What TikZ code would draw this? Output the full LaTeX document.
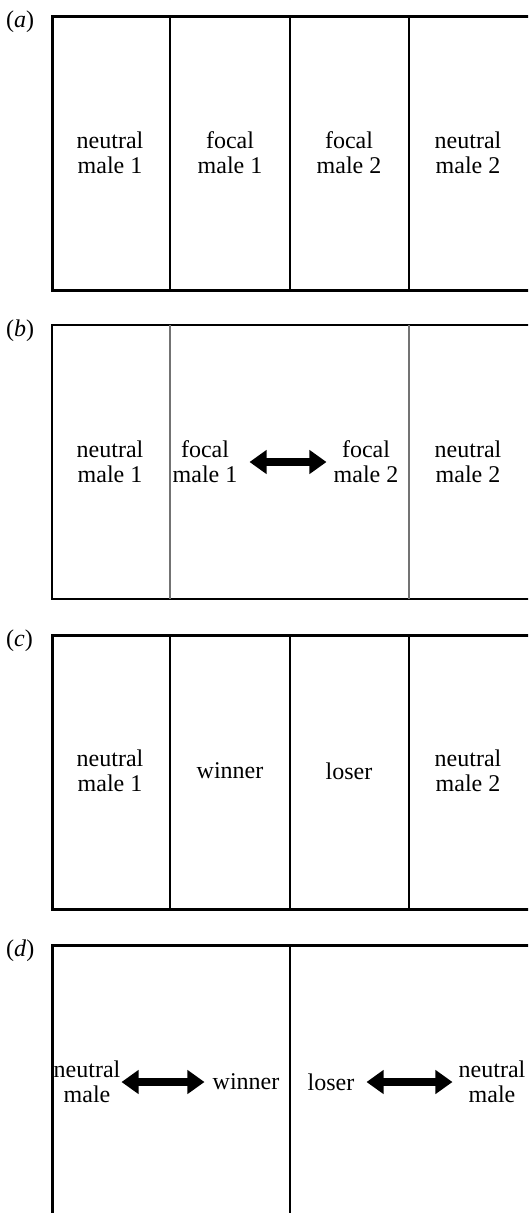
\documentclass[tikz,border=0pt]{standalone}
\usepackage{fontspec}
\setmainfont{Liberation Serif}
\usetikzlibrary{arrows.meta}

\tikzset{
  frame/.style={line width=3pt},
  wall/.style={line width=1.8pt},
  softwall/.style={line width=1.3pt, black!55},
  cage/.style={align=center, inner sep=0pt, font=\fontsize{24}{25}\selectfont},
  tag/.style={anchor=base west, inner sep=0pt, font=\fontsize{24}{26}\selectfont},
  fight/.style={line width=8pt, {Triangle[length=17pt,width=23pt]}-{Triangle[length=17pt,width=23pt]}},
}

\begin{document}
\begin{tikzpicture}[x=1pt,y=-1pt]
    \clip (0,0) rectangle (528,1213);

    % panels (a) and (c): four compartments
    \foreach \t/\p in {16/a, 635/c} {
        \draw[frame] (52,\t) rectangle (540,\t+274);
        \foreach \x in {170,290,409}
            \draw[wall] (\x,\t) -- (\x,\t+274);
        \node[tag] (tag-\p) at (6,\t+11) {(\textit{\p})};
    }

    % panel (b): barriers removed between the focal males
    \draw[frame, line width=2.4pt] (52,325) rectangle (540,599);
    \foreach \x in {170,409}
        \draw[softwall] (\x,325) -- (\x,599);
    \node[tag] (tag-b) at (6,336) {(\textit{b})};

    % panel (d): two compartments
    \draw[frame] (52,945) rectangle (540,1219);
    \draw[wall, line width=2.2pt] (290,945) -- (290,1219);
    \node[tag] (tag-d) at (6,956) {(\textit{d})};

    % (a)
    \node[cage] (a-n1) at (110,153) {neutral\\male 1};
    \node[cage] (a-f1) at (230,153) {focal\\male 1};
    \node[cage] (a-f2) at (349,153) {focal\\male 2};
    \node[cage] (a-n2) at (468,153) {neutral\\male 2};

    % (b)
    \node[cage] (b-n1) at (110,462) {neutral\\male 1};
    \node[cage] (b-f1) at (205,462) {focal\\male 1};
    \node[cage] (b-f2) at (366,462) {focal\\male 2};
    \node[cage] (b-n2) at (468,462) {neutral\\male 2};
    \draw[fight, shorten <=12pt, shorten >=7pt] (b-f1.east) -- (b-f2.west);

    % (c)
    \node[cage] (c-n1) at (110,771) {neutral\\male 1};
    \node[cage] (c-win) at (230,771) {winner};
    \node[cage] (c-lose) at (349,771) {loser};
    \node[cage] (c-n2) at (468,771) {neutral\\male 2};

    % (d)
    \node[cage] (d-n1) at (87,1082) {neutral\\male};
    \node[cage] (d-win) at (246,1082) {winner};
    \node[cage] (d-lose) at (331,1082) {loser};
    \node[cage] (d-n2) at (492,1082) {neutral\\male};
    \draw[fight, shorten <=1pt, shorten >=8pt] (d-n1.east) -- (d-win.west);
    \draw[fight, shorten <=12pt, shorten >=6pt] (d-lose.east) -- (d-n2.west);
\end{tikzpicture}
\end{document}
